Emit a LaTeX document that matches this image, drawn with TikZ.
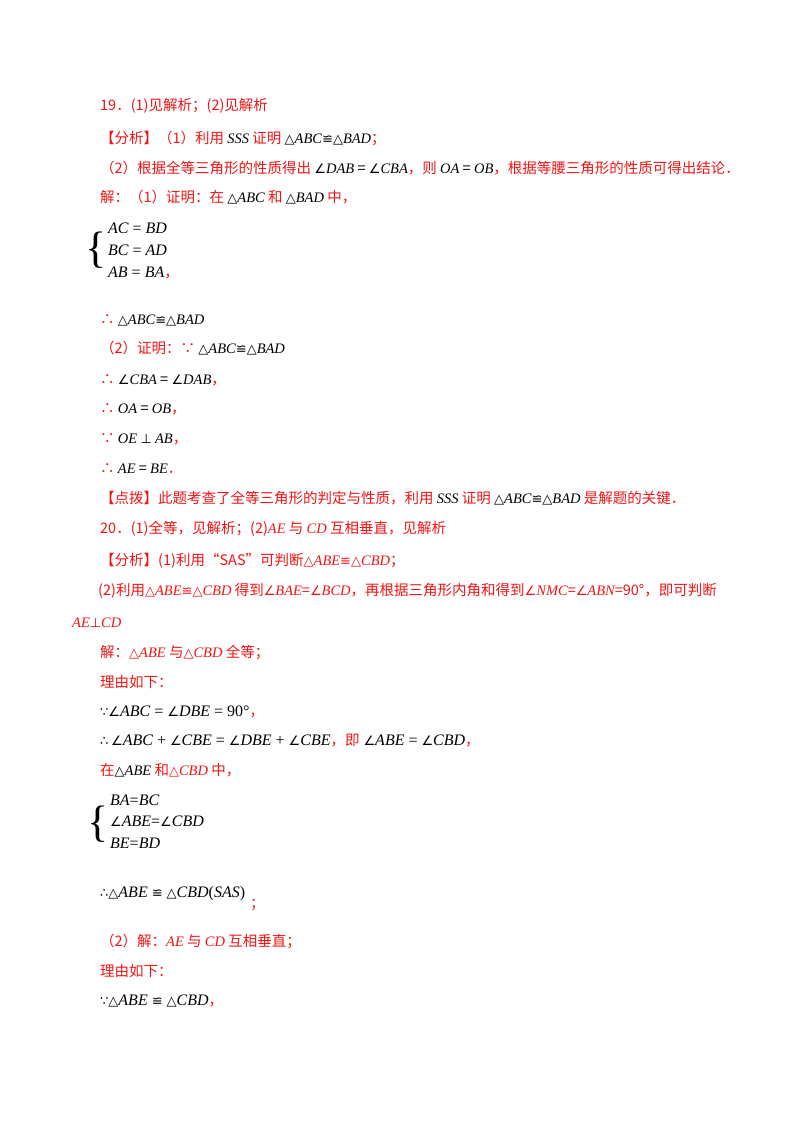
\documentclass[tikz,border=0pt]{standalone}
\usepackage{fontspec}
\setmainfont{Liberation Serif}
\newfontfamily\cjk{Noto Sans CJK SC}
\newfontfamily\mth[ItalicFont=Liberation Serif Italic]{Liberation Serif}
\newfontfamily\sym{DejaVu Sans}
\newcommand{\m}[1]{{\mth\itshape #1}}
\newcommand{\s}[1]{{\sym\fontsize{13}{13}\selectfont #1}}
\newcommand{\rc}{\textcolor{rd}{\cjk\fontsize{14.5}{16}\selectfont ，}}
\definecolor{rd}{RGB}{240,20,20}
\begin{document}
\begin{tikzpicture}[x=1pt,y=-1pt,
  t/.style={anchor=base west,inner sep=0pt,font=\cjk\fontsize{14.5}{16}\selectfont,text=rd},
  k/.style={anchor=base west,inner sep=0pt,font=\mth\fontsize{16}{16}\selectfont,text=black},
  brc/.style={anchor=east,inner sep=0pt,font=\mth\fontsize{44}{44}\selectfont,text=black}]
\useasboundingbox (0,0) rectangle (800,1132);
\node[t] (l1) at (100,110) {19．(1)见解析；(2)见解析};
\node[t] (l2) at (100,143) {【分析】（1）利用 \textcolor{black}{\m{SSS}} 证明 \textcolor{black}{\s{△}\m{ABC}\s{≌}\s{△}\m{BAD}}；};
\node[t] (l3) at (100,173) {（2）根据全等三角形的性质得出 \textcolor{black}{\s{∠}\m{DAB} = \s{∠}\m{CBA}}，则 \textcolor{black}{\m{OA} = \m{OB}}，根据等腰三角形的性质可得出结论．};
\node[t] (l4) at (100,202) {解：（1）证明：在 \textcolor{black}{\s{△}\m{ABC}} 和 \textcolor{black}{\s{△}\m{BAD}} 中，};
\node[brc] (br1) at (107,250) {\{};
\node[k] (e1) at (108,233) {\m{AC} = \m{BD}};
\node[k] (e2) at (108,255) {\m{BC} = \m{AD}};
\node[k] (e3) at (108,277) {\m{AB} = \m{BA}\rc};
\node[t] (l5) at (100,324) {∴ \textcolor{black}{\s{△}\m{ABC}\s{≌}\s{△}\m{BAD}}};
\node[t] (l6) at (100,353) {（2）证明：∵ \textcolor{black}{\s{△}\m{ABC}\s{≌}\s{△}\m{BAD}}};
\node[t] (l7) at (100,384) {∴ \textcolor{black}{\s{∠}\m{CBA} = \s{∠}\m{DAB}}，};
\node[t] (l8) at (100,413) {∴ \textcolor{black}{\m{OA} = \m{OB}}，};
\node[t] (l9) at (100,443) {∵ \textcolor{black}{\m{OE} \s{⊥} \m{AB}}，};
\node[t] (l10) at (100,473) {∴ \textcolor{black}{\m{AE} = \m{BE}}．};
\node[t] (l11) at (100,503) {【点拨】此题考查了全等三角形的判定与性质，利用 \textcolor{black}{\m{SSS}} 证明 \textcolor{black}{\s{△}\m{ABC}\s{≌}\s{△}\m{BAD}} 是解题的关键．};
\node[t] (l12) at (100,533) {20．(1)全等，见解析；(2)\m{AE} 与 \m{CD} 互相垂直，见解析};
\node[t] (l13) at (100,565) {【分析】(1)利用“SAS”可判断\s{△}\m{ABE}\s{≌}\s{△}\m{CBD}；};
\node[t] (l14) at (98,595) {(2)利用\s{△}\m{ABE}\s{≌}\s{△}\m{CBD} 得到\s{∠}\m{BAE}=\s{∠}\m{BCD}，再根据三角形内角和得到\s{∠}\m{NMC}=\s{∠}\m{ABN}=90°，即可判断};
\node[t] (l15) at (72,627) {\m{AE}\s{⊥}\m{CD}};
\node[t] (l16) at (100,657) {解：\s{△}\m{ABE} 与\s{△}\m{CBD} 全等；};
\node[t] (l17) at (100,687) {理由如下：};
\node[k] (l18) at (100,716) {\s{∵}\s{∠}\m{ABC} = \s{∠}\m{DBE} = 90°\rc};
\node[k] (l19) at (100,745) {\s{∴}\,\s{∠}\m{ABC} + \s{∠}\m{CBE} = \s{∠}\m{DBE} + \s{∠}\m{CBE}\textcolor{rd}{\cjk\fontsize{14.5}{16}\selectfont，即} \s{∠}\m{ABE} = \s{∠}\m{CBD}\rc};
\node[t] (l20) at (100,775) {在\textcolor{black}{\s{△}\m{ABE}} 和\s{△}\m{CBD} 中，};
\node[brc] (br2) at (109,824) {\{};
\node[k] (f1) at (110,805) {\m{BA}=\m{BC}};
\node[k] (f2) at (110,826) {\s{∠}\m{ABE}=\s{∠}\m{CBD}};
\node[k] (f3) at (110,848) {\m{BE}=\m{BD}};
\node[k] (l21) at (100,897) {\s{∴}\s{△}\m{ABE} \s{≌} \s{△}\m{CBD}(\m{SAS})};
\node[t] (l21b) at (250,908) {；};
\node[t] (l22) at (100,946) {（2）解：\m{AE} 与 \m{CD} 互相垂直；};
\node[t] (l23) at (100,976) {理由如下：};
\node[k] (l24) at (100,1005) {\s{∵}\s{△}\m{ABE} \s{≌} \s{△}\m{CBD}\rc};
\end{tikzpicture}
\end{document}
